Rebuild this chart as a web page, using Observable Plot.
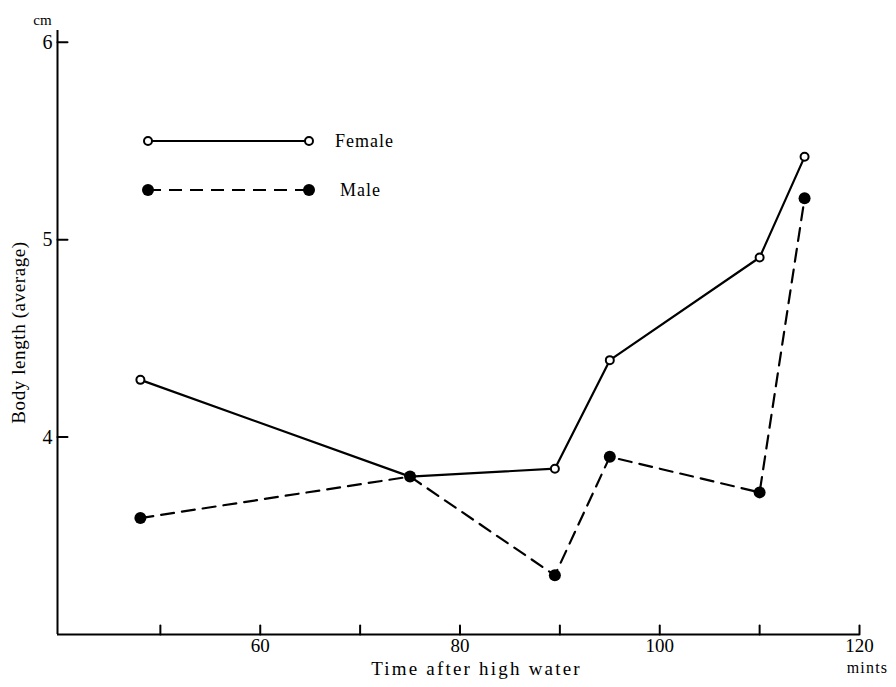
<!DOCTYPE html>
<html><head><meta charset="utf-8">
<script src="https://cdn.jsdelivr.net/npm/d3@7"></script>
<script src="https://cdn.jsdelivr.net/npm/@observablehq/plot@0.6"></script>
<style>
body{margin:0;background:#fff}
#wrap{position:relative;width:896px;height:687px}
#legend{position:absolute;left:0;top:0}
</style>
</head><body><div id="wrap"></div>
<script>
// Data
const times  = [48, 75, 89.5, 95, 110, 114.5];
const female = [4.29, 3.80, 3.84, 4.39, 4.91, 5.42];
const male   = [3.59, 3.80, 3.30, 3.90, 3.72, 5.21];
const xTicks = [50, 60, 70, 80, 90, 100, 110, 120];
const xTickLabels = [60, 80, 100, 120];
const yTicks = [4, 5, 6];
const seriesNames = ["Female", "Male"];
const xTitle = "Time after high water";
const yTitle = "Body length (average)";
const yUnit = "cm";
const xUnit = "mints";

const femaleData = times.map((t, i) => ({t, v: female[i]}));
const maleData = times.map((t, i) => ({t, v: male[i]}));
const serif = "'Liberation Serif', 'DejaVu Serif', serif";

const tickShape = {draw(ctx, l) { ctx.moveTo(0, 0); ctx.lineTo(0, -l); }};

const plot = Plot.plot({
  width: 896, height: 687,
  marginLeft: 57, marginRight: 37, marginTop: 30, marginBottom: 53,
  style: {fontFamily: serif, background: "#fff", color: "#000"},
  x: {domain: [39.7, 120]},
  y: {domain: [3, 6.06]},
  marks: [
    Plot.ruleY([3], {stroke: "#000", strokeWidth: 2}),
    Plot.ruleX([39.7], {stroke: "#000", strokeWidth: 2}),
    Plot.vector(xTicks, {x: d => d, y: 3, length: 9, rotate: 0, anchor: "start", shape: tickShape, stroke: "#000", strokeWidth: 2}),
    Plot.vector(yTicks, {x: 39.7, y: d => d, length: 10, rotate: 90, anchor: "start", shape: tickShape, stroke: "#000", strokeWidth: 2}),
    Plot.axisX({ticks: xTickLabels, tickSize: 0, tickPadding: 4, label: null, fontSize: 19, tickFormat: d => String(d)}),
    Plot.axisY({ticks: yTicks, tickSize: 0, tickPadding: 5, label: null, fontSize: 20, tickFormat: d => String(d)}),
    Plot.line(femaleData, {x: "t", y: "v", stroke: "#000", strokeWidth: 2.2}),
    Plot.line(maleData, {x: "t", y: "v", stroke: "#000", strokeWidth: 2.2, strokeDasharray: "13,8"}),
    Plot.dot(femaleData, {x: "t", y: "v", r: 4, fill: "#fff", stroke: "#000", strokeWidth: 2}),
    Plot.dot(maleData, {x: "t", y: "v", r: 6, fill: "#000", stroke: "none"}),
    Plot.text([xTitle], {text: d => d, frameAnchor: "bottom", textAnchor: "middle", dx: 18, dy: 40, fontSize: 19, fill: "#000"}),
    Plot.text([xUnit], {text: d => d, frameAnchor: "bottom-right", textAnchor: "middle", dx: 8, dy: 38, fontSize: 16, fill: "#000"}),
    Plot.text([yUnit], {text: d => d, frameAnchor: "top-left", textAnchor: "middle", dx: -15, dy: -16, fontSize: 15, fill: "#000"}),
    Plot.text([yTitle], {text: d => d, frameAnchor: "left", textAnchor: "middle", dx: -39, dy: 0, rotate: -90, fontSize: 19, fill: "#000"})
  ]
});
const wrap = document.getElementById("wrap");
wrap.appendChild(plot);

// letter spacing for the titles (Plot's text mark has no such option)
const spacing = {[xTitle]: 2.2, [yTitle]: 0.6, [xUnit]: 1.2};
d3.select(plot).selectAll("text").each(function() {
  const s = spacing[this.textContent];
  if (s != null) this.setAttribute("letter-spacing", s);
});

// Legend (pixel-positioned overlay)
const legend = d3.select(wrap).append("svg").attr("id", "legend").attr("width", 896).attr("height", 687);
const items = [
  {name: seriesNames[0], y: 141, dash: null, open: true, tx: 335},
  {name: seriesNames[1], y: 190, dash: "13,8", open: false, tx: 340}
];
for (const it of items) {
  legend.append("line").attr("x1", 148).attr("x2", 309).attr("y1", it.y).attr("y2", it.y)
    .attr("stroke", "#000").attr("stroke-width", 2).attr("stroke-dasharray", it.dash);
  for (const cx of [148, 309]) {
    legend.append("circle").attr("cx", cx).attr("cy", it.y).attr("r", it.open ? 4 : 6)
      .attr("fill", it.open ? "#fff" : "#000").attr("stroke", it.open ? "#000" : "none").attr("stroke-width", 2);
  }
  legend.append("text").attr("x", it.tx).attr("y", it.y).attr("dy", "0.32em")
    .attr("font-family", serif).attr("font-size", 18).attr("letter-spacing", 1).attr("fill", "#000").text(it.name);
}
</script>
</body></html>
